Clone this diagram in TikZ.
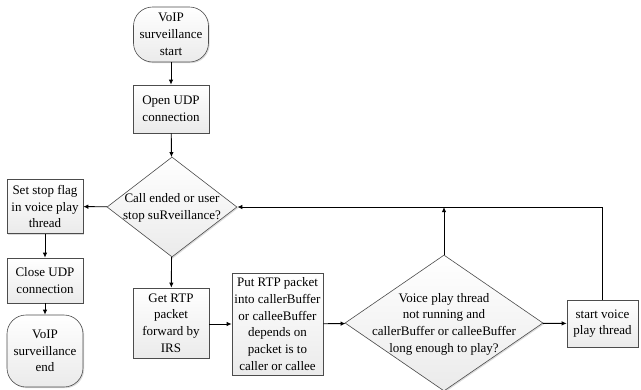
\documentclass[tikz,border=0pt]{standalone}
\usepackage{fontspec}
\setmainfont{Liberation Serif}
\usetikzlibrary{arrows.meta,shadows,shapes.geometric}

% zero-size text so the diamond keeps its given size
\newcommand{\dtxt}[1]{\makebox[0pt]{\smash{\raisebox{-0.3em}{\begin{tabular}{@{}c@{}}#1\end{tabular}}}}}

\tikzset{
  fc/.style={draw=black!70, line width=0.6pt, top color=white, bottom color=black!8,
    drop shadow={shadow xshift=1.2pt, shadow yshift=-1.2pt, fill=black!35, opacity=.4},
    font=\fontsize{13}{16.7}\selectfont, align=center, inner sep=0pt},
  procbox/.style={fc, rectangle},
  termbox/.style={fc, rectangle, rounded corners=19pt},
  decbox/.style={fc, diamond},
  flow/.style={draw=black, line width=0.9pt, -{Latex[length=5pt,width=4.5pt]}},
}

\begin{document}
\begin{tikzpicture}[x=1pt,y=-1pt]
  \useasboundingbox (0,0) rectangle (641,389);

  \node[termbox, minimum width=75pt, minimum height=55pt] (start) at (171,34.5)
    {VoIP\\surveillance\\start};
  \node[procbox, minimum width=76pt, minimum height=48pt] (open) at (171,109)
    {Open UDP\\connection};
  \node[decbox, minimum width=130pt, minimum height=100pt] (call) at (172,207)
    {\dtxt{Call ended or user\\stop suRveillance?}};
  \node[procbox, minimum width=76pt, minimum height=54pt] (stop) at (45,206.5)
    {Set stop flag\\in voice play\\thread};
  \node[procbox, minimum width=76pt, minimum height=45pt] (close) at (45,280.5)
    {Close UDP\\connection};
  \node[termbox, minimum width=76pt, minimum height=72pt] (finish) at (45,351)
    {VoIP\\surveillance\\end};
  \node[procbox, minimum width=76pt, minimum height=70pt] (get) at (171,323)
    {Get RTP\\packet\\forward by\\IRS};
  \node[procbox, minimum width=91pt, minimum height=102pt] (put) at (277.5,324)
    {Put RTP packet\\into callerBuffer\\or calleeBuffer\\depends on\\packet is to\\caller or callee};
  \node[decbox, minimum width=198pt, minimum height=136pt] (voice) at (444,323)
    {\dtxt{Voice play thread\\not running and\\callerBuffer or calleeBuffer\\long enough to play?}};
  \node[procbox, minimum width=71pt, minimum height=47pt] (startv) at (602.5,323.5)
    {start voice\\play thread};

  \coordinate (join) at (voice.north |- call.east);

  \draw[flow] (start) -- (open);
  \draw[flow] (open) -- (call);
  \draw[flow] (call) -- (stop);
  \draw[flow] (stop) -- (close);
  \draw[flow] (close) -- (finish);
  \draw[flow] (call) -- (get);
  \draw[flow] (get.east |- put.west) -- (put.west);
  \draw[flow] (put) -- (voice);
  \draw[flow] (voice) -- (startv);
  \draw[flow] (voice.north) -- (join);
  \draw[flow] (startv.north) |- (call.east);
\end{tikzpicture}
\end{document}
